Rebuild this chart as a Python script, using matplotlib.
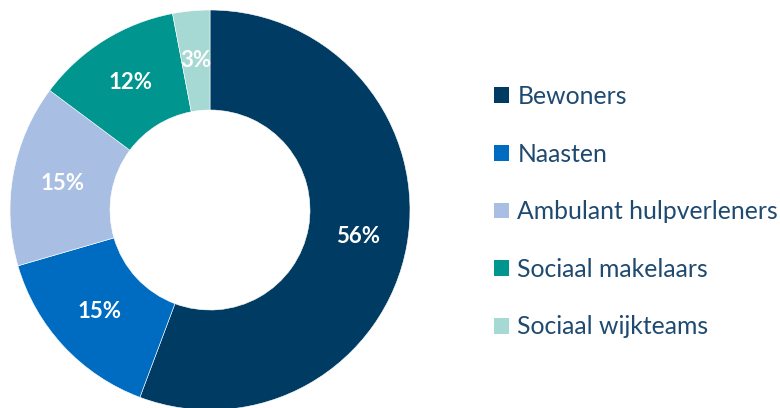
import matplotlib.pyplot as plt

plt.rcParams['font.family'] = ['Lato', 'DejaVu Sans']

groups = ["Bewoners", "Naasten", "Ambulant hulpverleners",
          "Sociaal makelaars", "Sociaal wijkteams"]
shares = [55.7, 14.8, 14.7, 11.8, 3.0]
colors = ["#003B63", "#006CC1", "#A8BFE3", "#00958F", "#A6D9D4"]

fig = plt.figure(figsize=(7.8, 4.08), dpi=100)
ax = fig.add_axes([10 / 780, -2 / 408, 400 / 780, 400 / 408])

wedges, texts, autotexts = ax.pie(
    shares, colors=colors, startangle=90, counterclock=False,
    radius=1.0, autopct="%.0f%%", pctdistance=0.75,
    wedgeprops=dict(width=0.5, edgecolor="white", linewidth=0.4),
    textprops=dict(color="white", fontsize=16, fontweight="bold"))
ax.set_xlim(-1, 1)
ax.set_ylim(-1, 1)
ax.set_aspect("equal")
ax.axis("off")

leg = fig.legend(wedges, groups, loc="upper left",
                 bbox_to_anchor=(494 / 780, 1 - 85 / 408),
                 frameon=False, fontsize=17.8, labelcolor="#1F4A70",
                 handlelength=0.6, handleheight=0.6, handletextpad=0.35,
                 labelspacing=1.4, borderpad=0, borderaxespad=0)
for h in leg.legend_handles:
    h.set_edgecolor("none")

fig.savefig("out.png", dpi=100)
